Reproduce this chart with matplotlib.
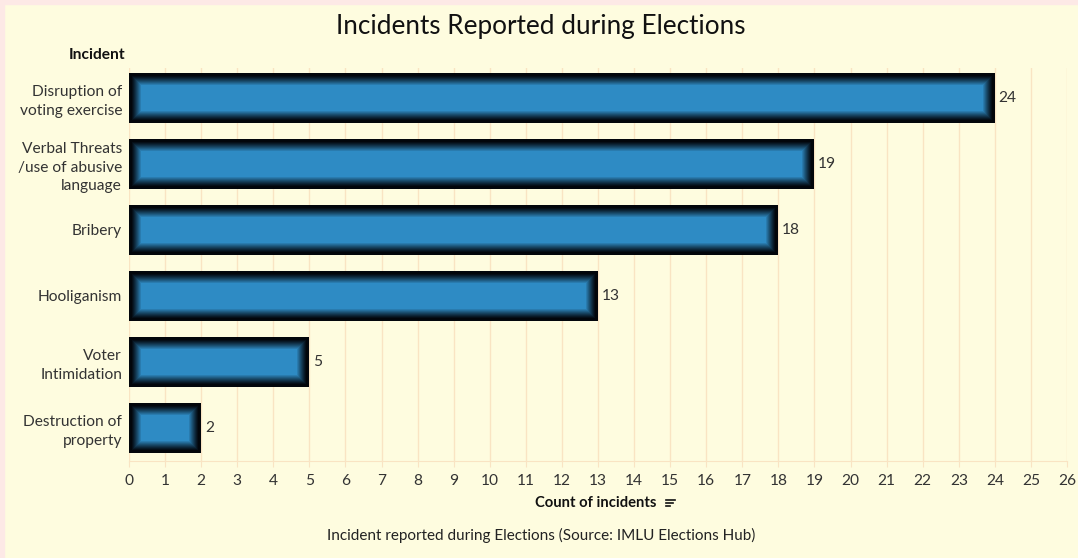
import matplotlib.pyplot as plt
import numpy as np
from matplotlib.colors import to_rgb
from matplotlib.lines import Line2D
from matplotlib.patches import Rectangle

plt.rcParams['font.family'] = ['Lato', 'DejaVu Sans']

incidents = ['Disruption of\nvoting exercise',
             'Verbal Threats\n/use of abusive\nlanguage',
             'Bribery',
             'Hooliganism',
             'Voter\nIntimidation',
             'Destruction of\nproperty']
counts = [24, 19, 18, 13, 5, 2]

bg = '#fefcdf'
blue = np.array(to_rgb('#2e8bc4'))
dark = np.array(to_rgb('#02060b'))
grid_col = '#f9e4c3'
txt = '#333333'

fig = plt.figure(figsize=(10.78, 5.58), dpi=100, facecolor=bg)
ax = fig.add_axes([0.1197, 0.1738, 0.8701, 0.7042])
ax.set_facecolor(bg)

# thin pink frame on top/left edges
fig.patches.append(Rectangle((0, 0.993), 1, 0.007, transform=fig.transFigure,
                             color='#fde9e6', zorder=0))
fig.patches.append(Rectangle((0, 0), 0.004, 1, transform=fig.transFigure,
                             color='#fde9e6', zorder=0))

ax.set_xlim(0, 26)
ax.set_ylim(5.5, -0.45)

ypos = np.arange(len(counts))
h = 0.76

# pixel sizes of one data unit, used for the inner glow inset
px_x = 0.8701 * 1078 / 26
px_y = 0.7042 * 558 / 5.95

steps = 12
for y, v in zip(ypos, counts):
    ax.barh(y, v, height=h, color=dark, zorder=3)
    for k in range(3, steps + 1):
        t = (k - 2) / (steps - 2)
        c = dark + (blue - dark) * (t ** 1.2)
        dx = k / px_x
        dy = k / px_y
        ax.add_patch(Rectangle((dx, y - h / 2 + dy), v - 2 * dx, h - 2 * dy,
                               facecolor=c, edgecolor='none', zorder=3 + k * 0.01))
    ax.text(v + 0.1, y, str(v), va='center', ha='left', fontsize=11.2,
            color=txt, zorder=5)

ax.set_yticks(ypos)
ax.set_yticklabels(incidents, fontsize=11.2, color=txt, linespacing=1.4)
ax.set_xticks(np.arange(0, 27))
ax.tick_params(axis='x', labelsize=11.2, colors=txt, length=4, color=grid_col, pad=5)
ax.tick_params(axis='y', length=0, pad=5)

ax.grid(axis='x', color=grid_col, linewidth=1, zorder=0)
ax.set_axisbelow(True)
for s in ['top', 'right', 'left']:
    ax.spines[s].set_visible(False)
ax.spines['bottom'].set_color(grid_col)

fig.text(0.502, 0.952, 'Incidents Reported during Elections', ha='center',
         va='center', fontsize=18.8, color='#111111')
fig.text(0.116, 0.901, 'Incident', ha='right', va='center', fontsize=11.2,
         fontweight='bold', color='#111111')
fig.text(0.553, 0.098, 'Count of incidents', ha='center', va='center',
         fontsize=10.6, fontweight='bold', color='#111111')

# small sort icon next to the axis title
for i, w in enumerate([0.0085, 0.0065, 0.004]):
    yy = 0.104 - i * 0.0055
    fig.add_artist(Line2D([0.6175, 0.6175 + w], [yy, yy], transform=fig.transFigure,
                          color='#111111', linewidth=1.2))

fig.text(0.502, 0.04, 'Incident reported during Elections (Source: IMLU Elections Hub)',
         ha='center', va='center', fontsize=11, color='#222222')

fig.savefig('out.png', dpi=100, facecolor=bg)
